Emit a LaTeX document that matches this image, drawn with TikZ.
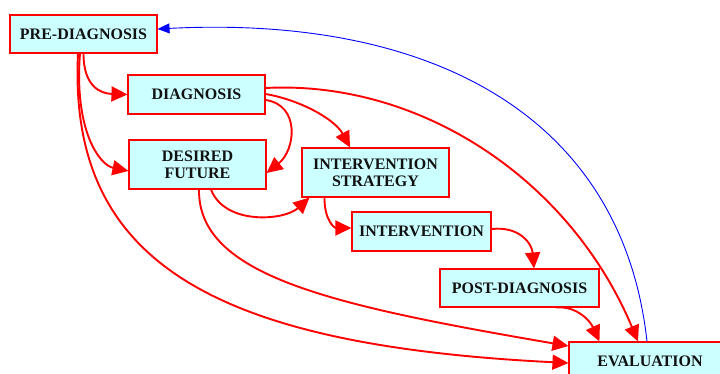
\documentclass[tikz,border=0pt]{standalone}
\usepackage{fontspec}
\setmainfont{Liberation Serif}
\usetikzlibrary{arrows.meta,calc}
\definecolor{boxfill}{HTML}{CCFFFF}
\definecolor{boxtext}{HTML}{111111}
\tikzset{
  stage/.style={draw=red, line width=1.1pt, fill=boxfill, text=boxtext,
    inner sep=0pt, align=center,
    font=\bfseries\fontsize{16}{17}\selectfont},
  redflow/.style={draw=red, line width=1.9pt, -{Triangle[length=16pt,width=15pt]}},
  blueflow/.style={draw=blue, line width=0.9pt, -{Triangle[length=12pt,width=10pt]}}
}
\begin{document}
\begin{tikzpicture}[x=1pt,y=-1pt]
\useasboundingbox (0,0) rectangle (720,374);
% nodes
\node[stage, minimum width=147pt, minimum height=38pt] (pre) at (83.5,34) {PRE-DIAGNOSIS};
\node[stage, minimum width=137pt, minimum height=39pt] (diag) at (196.5,94.5) {DIAGNOSIS};
\node[stage, minimum width=137pt, minimum height=49pt] (des) at (197.5,164.5) {DESIRED\\FUTURE};
\node[stage, minimum width=147pt, minimum height=49pt] (strat) at (375.5,172.5) {INTERVENTION\\STRATEGY};
\node[stage, minimum width=139pt, minimum height=39pt] (interv) at (421.5,231.5) {INTERVENTION};
\node[stage, minimum width=159pt, minimum height=38pt] (post) at (519.5,288) {POST-DIAGNOSIS};
\node[stage, minimum width=162pt, minimum height=38pt] (eval) at (650,361) {EVALUATION};
% edges
\draw[redflow] (pre.south) .. controls +(0,32) and +(-28,-1) .. (diag.west);
\draw[redflow] ($(pre.south)+(-3.5,0)$) .. controls +(-6,77) and +(-29,-6) .. ($(des.west)+(0,6.5)$);
\draw[redflow] ($(pre.south)+(-5.5,0)$) .. controls +(-10,207) and +(-359,-18) .. ($(eval.west)+(0,2)$);
\draw[redflow] ($(diag.east)+(0,5.5)$) .. controls +(35,5) and +(29,-23) .. ($(des.east)+(0,8.5)$);
\draw[redflow] ($(diag.east)+(0,-0.5)$) .. controls +(35,6) and +(-15,-28) .. ($(strat.north)+(-25.5,0)$);
\draw[redflow] ($(diag.east)+(0,-6.5)$) .. controls +(155,-8) and +(-68,-162) .. ($(eval.north)+(-12,0)$);
\draw[redflow] ($(des.south)+(13.5,0)$) .. controls +(14,36) and +(-25,23) .. ($(strat.south west)+(8,0)$);
\draw[redflow] ($(des.south)+(1.5,0)$) .. controls +(-1,86) and +(-239,-41) .. ($(eval.west)+(0,-15)$);
\draw[redflow] ($(strat.south west)+(23,0)$) .. controls +(0,23) and +(-17,0) .. ($(interv.west)+(0,-3.5)$);
\draw[redflow] ($(interv.east)+(0,-2.5)$) .. controls +(29,-3) and +(-2,-24) .. ($(post.north)+(14.5,0)$);
\draw[redflow] ($(post.south)+(36.5,0)$) .. controls +(19,-2) and +(-10,-22) .. ($(eval.north west)+(31,0)$);
\draw[blueflow] ($(eval.north)+(-3,0)$) .. controls +(-25,-227) and +(272,-14) .. ($(pre.east)+(0,-5)$);
\end{tikzpicture}
\end{document}
